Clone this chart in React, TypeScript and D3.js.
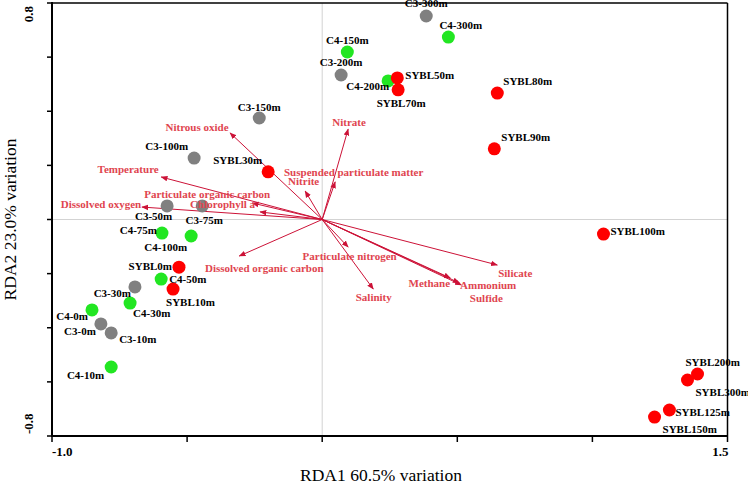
import React from "react";
import * as d3 from "d3";

// ---- data ----
const siteNames = [
  "C3-300m", "C3-200m", "C3-150m", "C3-100m", "C3-50m", "C3-75m", "C3-30m", "C3-0m", "C3-10m",
  "C4-300m", "C4-150m", "C4-200m", "C4-75m", "C4-100m", "C4-50m", "C4-30m", "C4-0m", "C4-10m",
  "SYBL50m", "SYBL70m", "SYBL80m", "SYBL90m", "SYBL30m", "SYBL100m", "SYBL0m", "SYBL10m",
  "SYBL200m", "SYBL300m", "SYBL125m", "SYBL150m",
];
const siteGroup = [
  "C3", "C3", "C3", "C3", "C3", "C3", "C3", "C3", "C3",
  "C4", "C4", "C4", "C4", "C4", "C4", "C4", "C4", "C4",
  "SYBL", "SYBL", "SYBL", "SYBL", "SYBL", "SYBL", "SYBL", "SYBL",
  "SYBL", "SYBL", "SYBL", "SYBL",
];
const siteRDA1 = [
  0.385, 0.070, -0.233, -0.474, -0.574, -0.444, -0.693, -0.819, -0.781,
  0.467, 0.093, 0.244, -0.593, -0.485, -0.596, -0.711, -0.852, -0.781,
  0.278, 0.281, 0.648, 0.637, -0.200, 1.041, -0.530, -0.552,
  1.389, 1.352, 1.285, 1.230,
];
const siteRDA2 = [
  0.752, 0.534, 0.375, 0.227, 0.050, 0.050, -0.249, -0.386, -0.419,
  0.674, 0.619, 0.512, -0.050, -0.061, -0.220, -0.309, -0.334, -0.545,
  0.523, 0.479, 0.467, 0.261, 0.176, -0.054, -0.176, -0.257,
  -0.571, -0.593, -0.704, -0.730,
];

const envNames = [
  "Nitrous oxide", "Nitrate", "Suspended particulate matter", "Nitrite", "Temperature",
  "Particulate organic carbon", "Chlorophyll a", "Dissolved oxygen", "Dissolved organic carbon",
  "Particulate nitrogen", "Salinity", "Methane", "Ammonium", "Sulfide", "Silicate",
];
const envRDA1 = [-0.341, 0.096, 0.048, -0.063, -0.596, -0.259, -0.230, -0.667, -0.307, 0.096, 0.189, 0.474, 0.507, 0.515, 0.648];
const envRDA2 = [0.320, 0.334, 0.139, 0.105, 0.157, 0.061, 0.028, 0.046, -0.135, -0.102, -0.257, -0.216, -0.234, -0.242, -0.168];

const xTicks = [-1.0, -0.5, 0, 0.5, 1.0, 1.5];
const yTicks = [-0.8, -0.6, -0.4, -0.2, 0, 0.2, 0.4, 0.6, 0.8];
const xTickLabels = ["-1.0", "1.5"];
const yTickLabels = ["-0.8", "0.8"];
const xTitle = "RDA1 60.5% variation";
const yTitle = "RDA2 23.0% variation";

// ---- layout (label placement, px) ----
const siteLabelPos: Record<string, [string, number, number]> = {
  "C3-300m": ["middle", 0, -9],
  "C3-200m": ["middle", 0, -8.5],
  "C3-150m": ["middle", 0, -7],
  "C3-100m": ["end", -6, -8],
  "C3-50m": ["middle", -13.5, 14],
  "C3-75m": ["middle", 2, 18],
  "C3-30m": ["end", -4, 10],
  "C3-0m": ["end", -5, 11],
  "C3-10m": ["start", 8, 10],
  "C4-300m": ["start", -9, -8],
  "C4-150m": ["middle", 0, -7.5],
  "C4-200m": ["end", 1, 9],
  "C4-75m": ["end", -5, 1],
  "C4-100m": ["end", -4, 14.5],
  "C4-50m": ["start", 8, 4],
  "C4-30m": ["start", 3, 13.5],
  "C4-0m": ["end", -4, 10],
  "C4-10m": ["end", -7, 12],
  "SYBL50m": ["start", 8, 1.5],
  "SYBL70m": ["middle", 3, 17],
  "SYBL80m": ["start", 6, -8],
  "SYBL90m": ["start", 7, -8],
  "SYBL30m": ["end", -6, -8],
  "SYBL100m": ["start", 7, 0.5],
  "SYBL0m": ["end", -7, 3],
  "SYBL10m": ["start", -7, 16.5],
  "SYBL200m": ["start", -12, -8.5],
  "SYBL300m": ["start", 8, 16.5],
  "SYBL125m": ["start", 6, 6],
  "SYBL150m": ["start", 8, 16],
};
const envLabelPos: Record<string, [number, number]> = {
  "Nitrous oxide": [-33, -2],
  "Nitrate": [1, -3],
  "Suspended particulate matter": [18.5, -6],
  "Nitrite": [-1.5, -6],
  "Temperature": [-33, -4],
  "Particulate organic carbon": [-45, -4.5],
  "Chlorophyll a": [-37.5, -4],
  "Dissolved oxygen": [-41, 0.5],
  "Dissolved organic carbon": [25, 15.5],
  "Particulate nitrogen": [1.5, 13],
  "Salinity": [0.5, 12],
  "Methane": [-21, 9.5],
  "Ammonium": [29, 6],
  "Sulfide": [25, 17],
  "Silicate": [18, 12],
};

const groupColor: Record<string, string> = { C3: "#808080", C4: "#22e622", SYBL: "#ff0000" };
const FONT = "'Times New Roman', 'Liberation Serif', serif";
const ARROW = "#cc1237";
const ENV_TEXT = "#e0454f";

export default function App() {
  const W = 748, H = 483;
  const x = d3.scaleLinear().domain([-1.0, 1.5]).range([52, 727.5]);
  const y = d3.scaleLinear().domain([-0.8, 0.8]).range([436, 3]);
  const x0 = x(0), y0 = y(0);

  const sites = siteNames.map((n, i) => ({ n, g: siteGroup[i], px: x(siteRDA1[i]), py: y(siteRDA2[i]) }));
  const envs = envNames.map((n, i) => ({ n, px: x(envRDA1[i]), py: y(envRDA2[i]) }));

  return (
    <svg width={W} height={H} style={{ position: "absolute", left: 0, top: 0, background: "#fff" }} fontFamily={FONT}>
      <defs>
        <marker id="ah" viewBox="0 0 10 10" refX="9" refY="5" markerWidth="7" markerHeight="7" markerUnits="userSpaceOnUse" orient="auto">
          <path d="M0,1 L10,5 L0,9 Z" fill={ARROW} />
        </marker>
      </defs>
      <rect x={0} y={0} width={W} height={H} fill="#fff" />
      {/* zero lines */}
      <line x1={x0} x2={x0} y1={y(0.8)} y2={y(-0.8)} stroke="#d3d3d3" strokeWidth={1} />
      <line x1={x(-1)} x2={x(1.5)} y1={y0} y2={y0} stroke="#d3d3d3" strokeWidth={1} />

      {/* env arrows */}
      {envs.map((e) => (
        <line key={"a" + e.n} x1={x0} y1={y0} x2={e.px} y2={e.py} stroke={ARROW} strokeWidth={1} markerEnd="url(#ah)" />
      ))}

      {/* sites */}
      {sites.map((s) => (
        <circle key={"c" + s.n} cx={s.px} cy={s.py} r={6.5} fill={groupColor[s.g]} />
      ))}

      {/* env labels */}
      {envs.map((e) => {
        const [dx, dy] = envLabelPos[e.n];
        return (
          <text key={"t" + e.n} x={e.px + dx} y={e.py + dy} textAnchor="middle" fontSize={11} fontWeight="bold" fill={ENV_TEXT}>
            {e.n}
          </text>
        );
      })}

      {/* site labels */}
      {sites.map((s) => {
        const [anc, dx, dy] = siteLabelPos[s.n];
        return (
          <text key={"l" + s.n} x={s.px + dx} y={s.py + dy} textAnchor={anc} fontSize={11} fontWeight="bold" fill="#000">
            {s.n}
          </text>
        );
      })}

      {/* frame */}
      <line x1={x(-1)} x2={x(1.5)} y1={y(0.8)} y2={y(0.8)} stroke="#000" strokeWidth={1.5} />
      <line x1={x(1.5)} x2={x(1.5)} y1={y(0.8)} y2={y(-0.8)} stroke="#000" strokeWidth={1.5} />
      <line x1={x(-1)} x2={x(-1)} y1={y(0.8) - 1} y2={y(-0.8) + 1} stroke="#000" strokeWidth={2} />
      <line x1={x(-1) - 1} x2={x(1.5)} y1={y(-0.8)} y2={y(-0.8)} stroke="#000" strokeWidth={2} />

      {/* ticks */}
      {xTicks.map((t) => (
        <line key={"xt" + t} x1={x(t)} x2={x(t)} y1={y(-0.8)} y2={y(-0.8) + 6} stroke="#000" strokeWidth={1.5} />
      ))}
      {yTicks.map((t) => (
        <line key={"yt" + t} x1={x(-1) - 5} x2={x(-1)} y1={y(t)} y2={y(t)} stroke="#000" strokeWidth={1.5} />
      ))}

      {/* tick labels */}
      <text x={x(-1)} y={456} textAnchor="start" fontSize={13} fontWeight="bold">{xTickLabels[0]}</text>
      <text x={x(1.5) + 1} y={456} textAnchor="end" fontSize={13} fontWeight="bold">{xTickLabels[1]}</text>
      <text transform={`translate(33,${y(-0.8) - 2}) rotate(-90)`} textAnchor="start" fontSize={13} fontWeight="bold">{yTickLabels[0]}</text>
      <text transform={`translate(33,${y(0.8) + 3}) rotate(-90)`} textAnchor="end" fontSize={13} fontWeight="bold">{yTickLabels[1]}</text>

      {/* axis titles */}
      <text x={381} y={481} textAnchor="middle" fontSize={17.5}>{xTitle}</text>
      <text transform={`translate(16,${(y(0.8) + y(-0.8)) / 2}) rotate(-90)`} textAnchor="middle" fontSize={17.5}>{yTitle}</text>
    </svg>
  );
}
